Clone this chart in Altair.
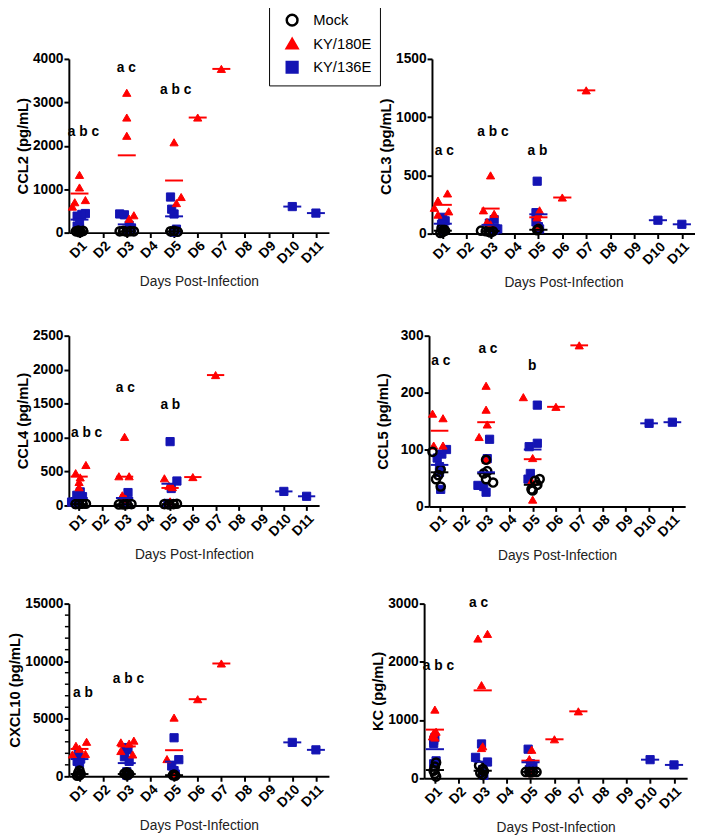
import altair as alt
import pandas as pd

GROUPS = ["Mock", "KY/180E", "KY/136E"]
STROKES = ["black", "#ff0000", "#1414b4"]
FILLS = ["transparent", "#ff0000", "#1414b4"]
SHAPES = ["circle", "triangle-up", "square"]
DAY_LABELS = [1, 2, 3, 4, 5, 6, 7, 8, 9, 10, 11]
MOCK_DAYS = [1, 3, 5]
RED_DAYS = [1, 3, 5, 6, 7]
BLUE_DAYS = [1, 3, 5, 10, 11]

# ---------------- CCL2 ----------------
CCL2_red_x = [1.0, 1.0, 0.8, 0.7, 1.25, 3.0, 3.0, 3.0, 3.3, 3.1, 5.0, 5.3, 5.1, 6.0, 7.0]
CCL2_red_y = [1330, 1040, 700, 600, 750, 3220, 2650, 2230, 400, 320, 2080, 820, 680, 2650, 3770]
CCL2_blue_x = [1.25, 1.1, 0.9, 1.0, 0.9, 1.0, 2.7, 2.9, 3.1, 3.2, 3.0, 4.85, 4.9, 5.0, 5.1, 5.0, 10.0, 11.0]
CCL2_blue_y = [440, 420, 380, 250, 150, 100, 430, 410, 170, 100, 50, 820, 540, 430, 80, 10, 600, 450]
CCL2_mock_x = [0.85, 0.95, 1.05, 1.15, 1.0, 2.7, 2.85, 3.0, 3.15, 3.3, 4.85, 5.0, 5.15]
CCL2_mock_y = [30, 50, 20, 40, 10, 30, 40, 20, 35, 30, 30, 40, 20]
CCL2_mean_mock = [30, 30, 30]
CCL2_mean_red = [900, 1780, 1200, 2650, 3770]
CCL2_mean_blue = [300, 190, 375, 600, 450]
CCL2_ann_x = [1.17, 2.98, 5.07]
CCL2_ann_y = [2310, 3790, 3280]
CCL2_ann_t = ["a b c", "a c", "a b c"]

# ---------------- CCL3 ----------------
CCL3_red_x = [0.8, 1.2, 0.65, 1.25, 0.8, 3.0, 2.7, 3.15, 2.85, 3.0, 5.05, 5.0, 4.95, 5.0, 6.0, 7.0]
CCL3_red_y = [284, 345, 222, 191, 163, 500, 200, 170, 100, 80, 200, 170, 140, 60, 310, 1230]
CCL3_blue_x = [1.0, 1.1, 0.95, 1.0, 1.05, 3.15, 2.95, 3.3, 3.15, 4.95, 4.9, 4.9, 5.0, 5.05, 10.0, 11.0]
CCL3_blue_y = [140, 110, 80, 40, 30, 120, 90, 40, 30, 450, 180, 100, 60, 40, 115, 80]
CCL3_mock_x = [0.95, 1.05, 1.0, 0.9, 1.1, 2.6, 2.8, 2.95, 3.1, 3.0, 5.0, 4.95]
CCL3_mock_y = [45, 35, 15, 5, 25, 25, 20, 15, 20, 10, 40, 30]
CCL3_mean_mock = [25, 22, 33]
CCL3_mean_red = [247, 215, 140, 310, 1230]
CCL3_mean_blue = [85, 75, 166, 115, 80]
CCL3_ann_x = [1.07, 3.1, 4.96]
CCL3_ann_y = [705, 874, 705]
CCL3_ann_t = ["a c", "a b c", "a b"]

# ---------------- CCL4 ----------------
CCL4_red_x = [1.3, 0.85, 1.05, 1.0, 1.0, 3.0, 2.75, 3.2, 2.9, 3.05, 4.75, 4.95, 5.1, 5.0, 6.0, 7.0]
CCL4_red_y = [596, 476, 413, 346, 269, 1010, 430, 430, 150, 100, 400, 290, 270, 60, 418, 1920]
CCL4_blue_x = [1.05, 0.9, 1.15, 0.67, 1.0, 3.15, 3.0, 3.1, 5.0, 5.3, 5.05, 4.9, 10.0, 11.0]
CCL4_blue_y = [200, 150, 130, 50, 30, 190, 100, 50, 940, 360, 250, 30, 207, 135]
CCL4_mock_x = [0.85, 1.0, 1.15, 1.3, 2.75, 2.95, 3.1, 3.3, 4.75, 4.95, 5.15, 5.3]
CCL4_mock_y = [20, 20, 25, 25, 15, 15, 20, 20, 20, 15, 20, 25]
CCL4_mean_mock = [20, 18, 20]
CCL4_mean_red = [425, 424, 258, 418, 1920]
CCL4_mean_blue = [110, 110, 320, 207, 135]
CCL4_ann_x = [1.33, 3.03, 5.01]
CCL4_ann_y = [1073, 1735, 1481]
CCL4_ann_t = ["a b c", "a c", "a b"]

# ---------------- CCL5 ----------------
CCL5_red_x = [0.7, 1.15, 0.75, 1.15, 3.0, 3.0, 3.05, 2.7, 3.0, 4.6, 5.0, 4.95, 5.0, 6.0, 7.0]
CCL5_red_y = [163, 155, 107, 107, 212, 170, 144, 122, 82, 192, 12, 45, 85, 175, 283]
CCL5_blue_x = [1.3, 1.1, 0.9, 1.0, 1.0, 1.05, 3.15, 3.05, 2.65, 2.9, 3.0, 5.2, 5.2, 4.85, 4.9, 4.8, 10.0, 11.0]
CCL5_blue_y = [100, 92, 85, 70, 60, 30, 118, 84, 37, 35, 25, 178, 111, 105, 58, 48, 146, 148]
CCL5_mock_x = [0.7, 1.05, 0.95, 0.85, 1.05, 3.0, 3.05, 2.9, 3.0, 3.3, 5.3, 5.1, 5.2, 4.95, 5.0]
CCL5_mock_y = [96, 65, 55, 48, 35, 82, 62, 58, 48, 42, 48, 45, 38, 30, 28]
CCL5_mean_mock = [60, 58, 38]
CCL5_mean_red = [133, 148, 83, 175, 283]
CCL5_mean_blue = [73, 60, 100, 146, 148]
CCL5_ann_x = [1.06, 3.08, 4.98]
CCL5_ann_y = [255, 277, 246]
CCL5_ann_t = ["a c", "a c", "b"]

# ---------------- CXCL10 ----------------
CXCL10_red_x = [0.85, 1.3, 0.7, 1.25, 1.0, 3.3, 2.75, 3.1, 2.75, 3.25, 5.0, 4.7, 5.0, 6.0, 7.0]
CXCL10_red_y = [2650, 3000, 1900, 1950, 2400, 3100, 2950, 2850, 2200, 1900, 5100, 1500, 200, 6700, 9800]
CXCL10_blue_x = [0.95, 1.05, 0.9, 1.0, 2.95, 3.05, 2.9, 3.1, 3.0, 3.0, 5.0, 5.2, 4.9, 5.0, 5.05, 10.0, 11.0]
CXCL10_blue_y = [2000, 1500, 1300, 1100, 2500, 2300, 1700, 1300, 400, 100, 3350, 1450, 900, 500, 200, 2950, 2300]
CXCL10_mock_x = [1.0, 0.95, 1.05, 1.0, 0.9, 3.0, 2.9, 3.1, 3.0, 5.0, 4.95, 5.05]
CXCL10_mock_y = [500, 300, 200, 100, 50, 350, 250, 200, 100, 150, 100, 50]
CXCL10_mean_mock = [200, 200, 100]
CXCL10_mean_red = [2380, 2600, 2270, 6700, 9800]
CXCL10_mean_blue = [1500, 1150, 1280, 2950, 2300]
CXCL10_ann_x = [1.15, 3.07]
CXCL10_ann_y = [7200, 8480]
CXCL10_ann_t = ["a b", "a b c"]
CXCL10_minor = [1000, 2000, 3000, 4000, 6000, 7000, 8000, 9000, 11000, 12000, 13000, 14000]

# ---------------- KC ----------------
KC_red_x = [1.0, 1.05, 0.95, 0.9, 1.0, 3.2, 2.8, 2.95, 3.0, 2.95, 5.05, 4.95, 5.0, 6.0, 7.0]
KC_red_y = [1180, 800, 780, 720, 700, 2480, 2400, 1600, 550, 520, 490, 330, 90, 670, 1150]
KC_blue_x = [1.0, 0.95, 0.95, 0.95, 1.05, 2.95, 2.7, 3.2, 3.0, 3.05, 4.9, 5.0, 5.1, 4.95, 10.0, 11.0]
KC_blue_y = [700, 650, 600, 250, 300, 590, 360, 280, 150, 50, 500, 250, 200, 150, 320, 230]
KC_mock_x = [1.05, 1.0, 0.95, 1.0, 1.05, 2.85, 3.0, 3.05, 2.9, 3.0, 4.8, 4.95, 5.1, 5.25, 5.0]
KC_mock_y = [270, 200, 130, 80, 30, 220, 160, 120, 90, 60, 110, 110, 110, 110, 100]
KC_mean_mock = [142, 130, 110]
KC_mean_red = [836, 1510, 303, 670, 1150]
KC_mean_blue = [500, 286, 275, 320, 230]
KC_ann_x = [1.15, 2.83]
KC_ann_y = [1930, 3010]
KC_ann_t = ["a b c", "a c"]

FONT = "Liberation Sans"


def panel(mock_x, mock_y, red_x, red_y, blue_x, blue_y, m_mock, m_red, m_blue,
          ann_x, ann_y, ann_t, title, ymax, yvals, w, h, minor=None, ytitle_pad=2):
    pts = pd.DataFrame({
        "x": blue_x + red_x + mock_x,
        "v": blue_y + red_y + mock_y,
        "group": ["KY/136E"] * len(blue_x) + ["KY/180E"] * len(red_x) + ["Mock"] * len(mock_x),
    })
    means = pd.DataFrame({
        "day": MOCK_DAYS + RED_DAYS + BLUE_DAYS,
        "v": m_mock + m_red + m_blue,
        "group": ["Mock"] * len(MOCK_DAYS) + ["KY/180E"] * len(RED_DAYS) + ["KY/136E"] * len(BLUE_DAYS),
    })
    ann = pd.DataFrame({"x": ann_x, "v": ann_y, "t": ann_t})

    xs = alt.Scale(domain=[0.55, 11.55], nice=False, zero=False)
    ys = alt.Scale(domain=[0, ymax], nice=False)
    xaxis = alt.Axis(values=DAY_LABELS, labelExpr="'D' + datum.value", title="Days Post-Infection",
                     labelOverlap=False, labelFlush=False)
    yaxis = alt.Axis(values=yvals, title=title, format="d", titlePadding=ytitle_pad)

    shape_s = alt.Scale(domain=GROUPS, range=SHAPES)
    stroke_s = alt.Scale(domain=GROUPS, range=STROKES)
    fill_s = alt.Scale(domain=GROUPS, range=FILLS)
    leg = alt.Legend(title=None)

    points = alt.Chart(pts).mark_point(size=70, opacity=1).encode(
        x=alt.X("x:Q", scale=xs, axis=xaxis),
        y=alt.Y("v:Q", scale=ys, axis=yaxis),
        shape=alt.Shape("group:N", scale=shape_s, legend=leg),
        stroke=alt.Stroke("group:N", scale=stroke_s, legend=leg),
        fill=alt.Fill("group:N", scale=fill_s, legend=leg),
        strokeWidth=alt.condition("datum.group == 'Mock'", alt.value(2.5), alt.value(1)),
    )
    rules = alt.Chart(means).transform_calculate(
        x1="datum.day - 0.38", x2="datum.day + 0.38"
    ).mark_rule(strokeWidth=2).encode(
        x=alt.X("x1:Q", scale=xs, axis=xaxis),
        x2="x2:Q",
        y=alt.Y("v:Q", scale=ys, axis=yaxis),
        stroke=alt.Stroke("group:N", scale=stroke_s, legend=None),
    )
    text = alt.Chart(ann).mark_text(font=FONT, fontSize=14, fontWeight="bold", color="black",
                                    align="center", baseline="middle").encode(
        x=alt.X("x:Q", scale=xs, axis=xaxis),
        y=alt.Y("v:Q", scale=ys, axis=yaxis),
        text="t:N",
    )
    layers = [points, rules, text]
    if minor:
        mdf = pd.DataFrame({"v": minor})
        layers.append(alt.Chart(mdf).mark_rule(color="black", strokeWidth=1.5).encode(
            y=alt.Y("v:Q", scale=ys, axis=yaxis),
            x=alt.value(-4), x2=alt.value(0)))
    return alt.layer(*layers).properties(width=w, height=h)


p1 = panel(CCL2_mock_x, CCL2_mock_y, CCL2_red_x, CCL2_red_y, CCL2_blue_x, CCL2_blue_y,
           CCL2_mean_mock, CCL2_mean_red, CCL2_mean_blue, CCL2_ann_x, CCL2_ann_y, CCL2_ann_t,
           "CCL2 (pg/mL)", 4000, [0, 1000, 2000, 3000, 4000], 265, 177)
p2 = panel(CCL3_mock_x, CCL3_mock_y, CCL3_red_x, CCL3_red_y, CCL3_blue_x, CCL3_blue_y,
           CCL3_mean_mock, CCL3_mean_red, CCL3_mean_blue, CCL3_ann_x, CCL3_ann_y, CCL3_ann_t,
           "CCL3 (pg/mL)", 1500, [0, 500, 1000, 1500], 268, 178)
p3 = panel(CCL4_mock_x, CCL4_mock_y, CCL4_red_x, CCL4_red_y, CCL4_blue_x, CCL4_blue_y,
           CCL4_mean_mock, CCL4_mean_red, CCL4_mean_blue, CCL4_ann_x, CCL4_ann_y, CCL4_ann_t,
           "CCL4 (pg/mL)", 2500, [0, 500, 1000, 1500, 2000, 2500], 255, 173)
p4 = panel(CCL5_mock_x, CCL5_mock_y, CCL5_red_x, CCL5_red_y, CCL5_blue_x, CCL5_blue_y,
           CCL5_mean_mock, CCL5_mean_red, CCL5_mean_blue, CCL5_ann_x, CCL5_ann_y, CCL5_ann_t,
           "CCL5 (pg/mL)", 300, [0, 100, 200, 300], 261, 174, ytitle_pad=10)
p5 = panel(CXCL10_mock_x, CXCL10_mock_y, CXCL10_red_x, CXCL10_red_y, CXCL10_blue_x, CXCL10_blue_y,
           CXCL10_mean_mock, CXCL10_mean_red, CXCL10_mean_blue, CXCL10_ann_x, CXCL10_ann_y, CXCL10_ann_t,
           "CXCL10 (pg/mL)", 15000, [0, 5000, 10000, 15000], 265, 176, minor=CXCL10_minor)
p6 = panel(KC_mock_x, KC_mock_y, KC_red_x, KC_red_y, KC_blue_x, KC_blue_y,
           KC_mean_mock, KC_mean_red, KC_mean_blue, KC_ann_x, KC_ann_y, KC_ann_t,
           "KC (pg/mL)", 3000, [0, 1000, 2000, 3000], 268, 178)

row1 = alt.hconcat(p1, p2, spacing=50)
row2 = alt.hconcat(p3, p4, spacing=57)
row3 = alt.hconcat(p5, p6, spacing=42)

lower = alt.concat(row2, row3, columns=1, align="none", spacing=33)

chart = alt.concat(row1, lower, columns=1, align="none", spacing=39).properties(
    padding={"left": 0, "top": -12, "right": 0, "bottom": -2}
).configure(font=FONT).configure_view(stroke=None).configure_axis(
    labelFont=FONT, titleFont=FONT, labelFontSize=14, labelFontWeight="bold",
    titleFontSize=15, titleFontWeight="bold", labelColor="black", titleColor="black",
    domainColor="black", domainWidth=2, tickColor="black", tickWidth=2, tickSize=5,
    grid=False,
).configure_axisY(
    labelPadding=1,
).configure_axisX(
    labelAngle=-45, titleFontWeight="normal", titleFontSize=14, titleColor="#222222",
    titlePadding=9, labelPadding=1,
).configure_legend(
    orient="none", legendX=204, legendY=-55, strokeColor="black", fillColor="white",
    padding=8, labelFontSize=15, labelFont=FONT, symbolSize=120, symbolStrokeWidth=2.5,
    rowPadding=3, labelOffset=14, labelColor="black", symbolOffset=8,
)

chart.save("out.html", embed_options={"renderer": "svg", "actions": False})
